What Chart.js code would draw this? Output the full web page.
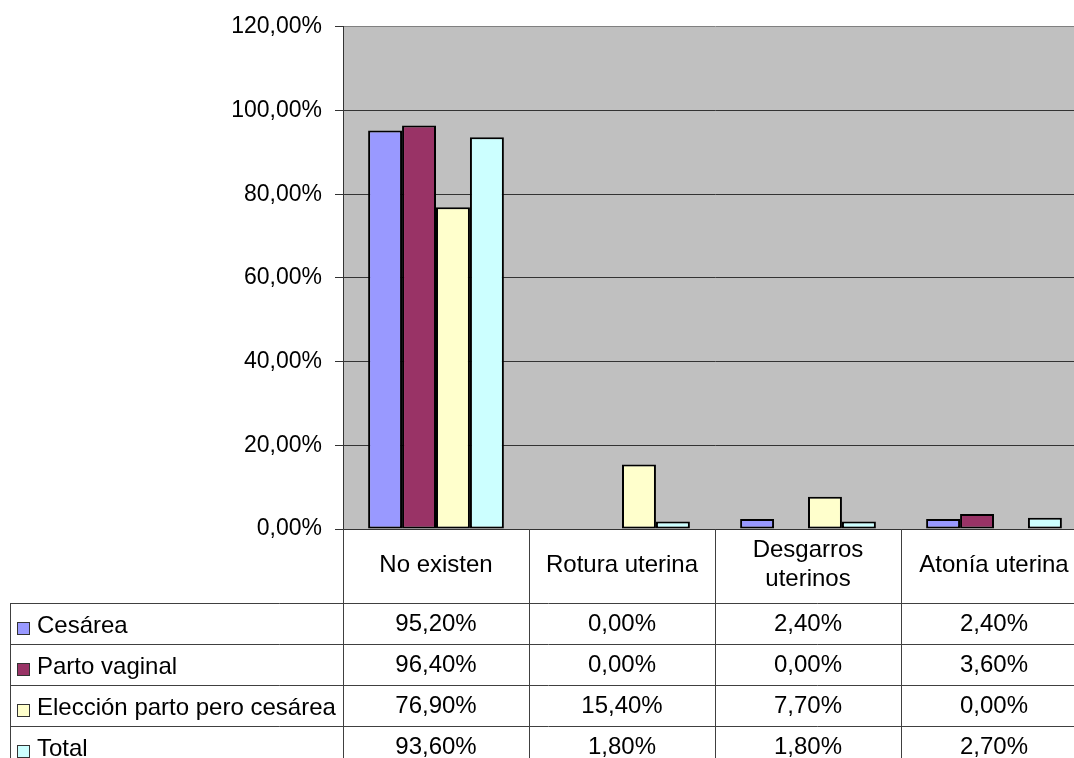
<!DOCTYPE html>
<html lang="es">
<head>
<meta charset="utf-8">
<title>Complicaciones</title>
<script src="https://cdn.jsdelivr.net/npm/chart.js@4.4.1/dist/chart.umd.min.js"></script>
<style>
  html, body { margin: 0; padding: 0; background: #fff; overflow: hidden; }
  #wrap { width: 1090px; height: 758px; }
</style>
</head>
<body>
<div id="wrap"><canvas id="chart" width="1090" height="758"></canvas></div>
<script>
const categories = ['No existen', 'Rotura uterina', 'Desgarros uterinos', 'Atonía uterina'];
const seriesNames = ['Cesárea', 'Parto vaginal', 'Elección parto pero cesárea', 'Total'];
const cesarea = [95.2, 0, 2.4, 2.4];
const partoVaginal = [96.4, 0, 0, 3.6];
const eleccion = [76.9, 15.4, 7.7, 0];
const total = [93.6, 1.8, 1.8, 2.7];
const yTicks = [0, 20, 40, 60, 80, 100, 120];

const colors = ['#9999ff', '#993366', '#ffffcc', '#ccffff'];
const FONT = "'Liberation Sans', Arial, sans-serif";
const AXIS_FONT_SIZE = 23;
const TABLE_FONT_SIZE = 24;

const fmt = v => v.toFixed(2).replace('.', ',') + '%';

// table geometry under the plot
const HEADER_H = 74;
const ROW_H = 41;
const TABLE_LEFT = 10;
const LINE = '#404040';

function wrapText(ctx, text, maxW) {
  const words = text.split(' ');
  const lines = [];
  let cur = '';
  words.forEach(w => {
    const test = cur ? cur + ' ' + w : w;
    if (ctx.measureText(test).width > maxW && cur) {
      lines.push(cur);
      cur = w;
    } else {
      cur = test;
    }
  });
  if (cur) lines.push(cur);
  return lines;
}

const plotBackground = {
  id: 'plotBackground',
  beforeDraw(chart) {
    const { ctx, chartArea: a } = chart;
    ctx.save();
    ctx.fillStyle = '#c0c0c0';
    ctx.fillRect(a.left, a.top, a.right - a.left, a.bottom - a.top);
    ctx.restore();
  }
};

const dataTable = {
  id: 'dataTable',
  afterDraw(chart) {
    const { ctx, chartArea: a, scales: { x } } = chart;
    const n = categories.length;
    const colW = (a.right - a.left) / n;
    const headerBottom = a.bottom + HEADER_H;
    const rowsData = chart.data.datasets.map(d => d.data);
    const bottom = headerBottom + ROW_H * rowsData.length;

    ctx.save();
    ctx.strokeStyle = LINE;
    ctx.lineWidth = 1;

    // vertical lines
    for (let i = 0; i <= n; i++) {
      const px = Math.round(x.getPixelForValue(i) - colW / 2) + 0.5;
      ctx.beginPath();
      ctx.moveTo(px, a.bottom);
      ctx.lineTo(px, bottom);
      ctx.stroke();
    }
    ctx.beginPath();
    ctx.moveTo(TABLE_LEFT + 0.5, headerBottom);
    ctx.lineTo(TABLE_LEFT + 0.5, bottom);
    ctx.stroke();

    // horizontal lines
    for (let r = 0; r <= rowsData.length; r++) {
      const py = Math.round(headerBottom + r * ROW_H) + 0.5;
      ctx.beginPath();
      ctx.moveTo(TABLE_LEFT, py);
      ctx.lineTo(a.right, py);
      ctx.stroke();
    }

    ctx.fillStyle = '#000';
    ctx.font = TABLE_FONT_SIZE + 'px ' + FONT;
    ctx.textAlign = 'center';
    ctx.textBaseline = 'middle';

    // category header
    categories.forEach((c, i) => {
      const cx = x.getPixelForValue(i);
      const lines = wrapText(ctx, c, colW - 16);
      const lh = 29;
      const cy = a.bottom + HEADER_H / 2 - 1 - (lines.length - 1) * lh / 2;
      lines.forEach((l, k) => ctx.fillText(l, cx, cy + k * lh));
    });

    // values
    rowsData.forEach((vals, r) => {
      const cy = headerBottom + r * ROW_H + ROW_H / 2 + 1;
      vals.forEach((v, i) => ctx.fillText(fmt(v), x.getPixelForValue(i), cy));
    });

    // legend keys in the first column
    ctx.textAlign = 'left';
    chart.data.datasets.forEach((d, r) => {
      const mid = headerBottom + r * ROW_H + ROW_H / 2;
      const top = Math.round(mid - 2);
      ctx.fillStyle = d.backgroundColor;
      ctx.fillRect(17, top, 13, 13);
      ctx.strokeStyle = '#333';
      ctx.strokeRect(17.5, top + 0.5, 12, 12);
      ctx.fillStyle = '#000';
      ctx.fillText(d.label, 37, mid + 3);
    });
    ctx.restore();
  }
};

const series = [cesarea, partoVaginal, eleccion, total];

new Chart(document.getElementById('chart'), {
  type: 'bar',
  data: {
    labels: categories,
    datasets: series.map((vals, i) => ({
      label: seriesNames[i],
      data: vals,
      backgroundColor: colors[i],
      borderColor: '#000',
      borderWidth: c => (c.raw === 0 ? 0 : 2),
      borderSkipped: false,
      categoryPercentage: 0.73,
      barPercentage: 1
    }))
  },
  options: {
    responsive: false,
    animation: false,
    layout: { padding: { left: 0, top: 26, right: 3, bottom: 758 - 529 } },
    plugins: {
      legend: { display: false },
      tooltip: { enabled: false }
    },
    scales: {
      x: { display: false },
      y: {
        min: 0,
        max: 120,
        afterFit: scale => { scale.width = 343; },
        afterBuildTicks: scale => { scale.ticks = yTicks.map(v => ({ value: v })); },
        ticks: {
          callback: v => fmt(v),
          color: '#000',
          padding: 13,
          font: { family: FONT, size: AXIS_FONT_SIZE }
        },
        grid: {
          color: c => (c.tick && c.tick.value === 120 ? '#808080' : '#333'),
          lineWidth: 1,
          tickLength: 8,
          tickColor: '#333'
        },
        border: { color: '#333', width: 1 }
      }
    }
  },
  plugins: [plotBackground, dataTable]
});
</script>
</body>
</html>
